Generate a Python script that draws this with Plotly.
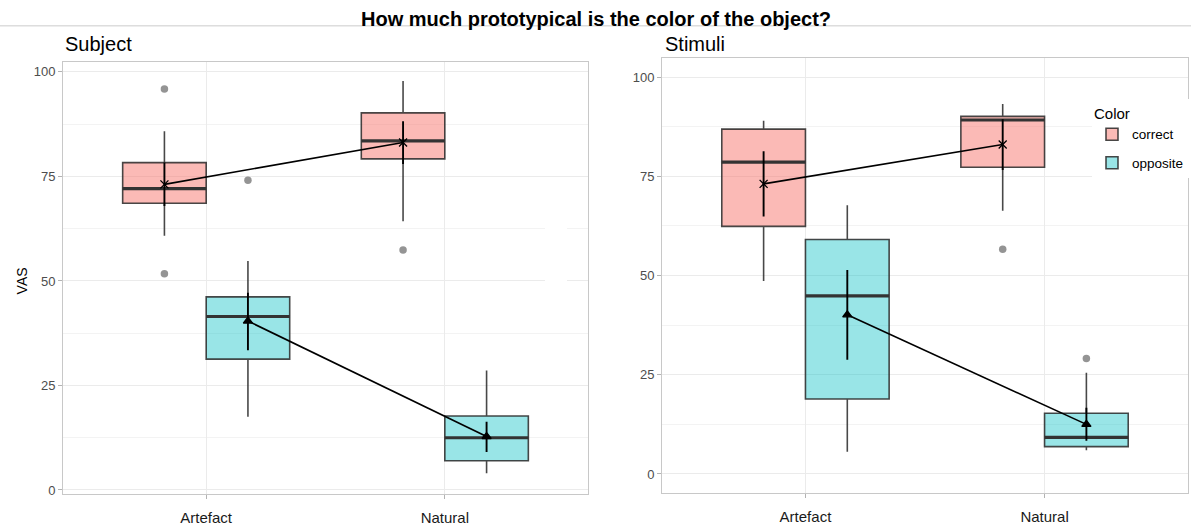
import plotly.graph_objects as go

# ---- data ---------------------------------------------------------------
categories = ["Artefact", "Natural"]
groups = ["correct", "opposite"]

# Subject panel: box statistics per group (Artefact, Natural)
subj_q1 = {"correct": [68.6, 79.2], "opposite": [31.3, 7.0]}
subj_median = {"correct": [72.1, 83.5], "opposite": [41.5, 12.5]}
subj_q3 = {"correct": [78.3, 90.2], "opposite": [46.2, 17.7]}
subj_lower = {"correct": [60.8, 64.3], "opposite": [17.5, 4.0]}
subj_upper = {"correct": [85.8, 97.8], "opposite": [54.8, 28.6]}
subj_mean = {"correct": [73.1, 83.1], "opposite": [40.4, 12.8]}
subj_err_lo = {"correct": [67.9, 78.0], "opposite": [33.4, 9.1]}
subj_err_hi = {"correct": [78.3, 88.2], "opposite": [47.2, 16.3]}
subj_outliers = {"correct": [[95.9, 51.7], [57.4]], "opposite": [[74.1], []]}

# Stimuli panel
stim_q1 = {"correct": [62.4, 77.3], "opposite": [18.9, 6.9]}
stim_median = {"correct": [78.6, 89.2], "opposite": [44.9, 9.2]}
stim_q3 = {"correct": [86.9, 90.1], "opposite": [59.1, 15.3]}
stim_lower = {"correct": [48.6, 66.3], "opposite": [5.6, 6.0]}
stim_upper = {"correct": [89.0, 93.2], "opposite": [67.7, 25.5]}
stim_mean = {"correct": [73.1, 83.0], "opposite": [40.1, 12.5]}
stim_err_lo = {"correct": [64.9, 76.6], "opposite": [28.8, 8.4]}
stim_err_hi = {"correct": [81.3, 89.4], "opposite": [51.4, 16.7]}
stim_outliers = {"correct": [[], [56.6]], "opposite": [[], [29.1]]}

y_ticks = [0, 25, 50, 75, 100]

# ---- styling ------------------------------------------------------------
FONT = "Liberation Sans"
fills = {"correct": "rgba(248,118,109,0.5)", "opposite": "rgba(0,191,196,0.4)"}
mean_symbols = {"correct": "x-thin-open", "opposite": "triangle-up"}
offsets = {"correct": -0.175, "opposite": 0.175}
BOX_W = 0.35
W, H = 1191, 528

fig = go.Figure()

panels = [
    dict(xa="x", ya="y", q1=subj_q1, med=subj_median, q3=subj_q3, lo=subj_lower,
         hi=subj_upper, mean=subj_mean, elo=subj_err_lo, ehi=subj_err_hi,
         out=subj_outliers, legend=False),
    dict(xa="x2", ya="y2", q1=stim_q1, med=stim_median, q3=stim_q3, lo=stim_lower,
         hi=stim_upper, mean=stim_mean, elo=stim_err_lo, ehi=stim_err_hi,
         out=stim_outliers, legend=True),
]

for p in panels:
    for g in groups:
        xs = [i + 1 + offsets[g] for i in range(len(categories))]
        fig.add_trace(go.Box(
            x=xs, q1=p["q1"][g], median=p["med"][g], q3=p["q3"][g],
            lowerfence=p["lo"][g], upperfence=p["hi"][g],
            width=BOX_W, whiskerwidth=0, boxpoints=False,
            fillcolor=fills[g], line=dict(color="rgba(40,40,40,0.85)", width=1.6),
            name=g, legendgroup=g, showlegend=p["legend"],
            xaxis=p["xa"], yaxis=p["ya"], hoverinfo="skip",
        ))
        # thick median bars
        mx, my = [], []
        for x, m in zip(xs, p["med"][g]):
            mx += [x - BOX_W / 2, x + BOX_W / 2, None]
            my += [m, m, None]
        fig.add_trace(go.Scatter(
            x=mx, y=my, mode="lines", line=dict(color="#333333", width=3.2),
            showlegend=False, xaxis=p["xa"], yaxis=p["ya"], hoverinfo="skip",
        ))
        # outliers
        ox, oy = [], []
        for x, vals in zip(xs, p["out"][g]):
            for v in vals:
                ox.append(x)
                oy.append(v)
        if ox:
            fig.add_trace(go.Scatter(
                x=ox, y=oy, mode="markers",
                marker=dict(color="rgba(0,0,0,0.42)", size=7.5),
                showlegend=False, xaxis=p["xa"], yaxis=p["ya"], hoverinfo="skip",
            ))
    # mean lines with error bars
    for g in groups:
        xs = [i + 1 + offsets[g] for i in range(len(categories))]
        means = p["mean"][g]
        fig.add_trace(go.Scatter(
            x=xs, y=means, mode="lines+markers",
            line=dict(color="black", width=1.6),
            marker=dict(symbol=mean_symbols[g], size=8, color="black",
                        line=dict(color="black", width=1.3)),
            error_y=dict(type="data", symmetric=False,
                         array=[h - m for h, m in zip(p["ehi"][g], means)],
                         arrayminus=[m - l for l, m in zip(p["elo"][g], means)],
                         width=0, thickness=1.9, color="black"),
            showlegend=False, xaxis=p["xa"], yaxis=p["ya"], hoverinfo="skip",
        ))

grid = "#ebebeb"
border = "#c8c8c8"


def xaxis(domain, anchor):
    return dict(
        domain=domain, anchor=anchor, range=[0.4, 2.6],
        tickvals=[1, 2], ticktext=categories,
        showgrid=True, gridcolor=grid, gridwidth=1,
        showline=True, mirror=True, linecolor=border, linewidth=1,
        ticks="outside", ticklen=4, tickcolor="#b3b3b3",
        ticklabelstandoff=6,
        tickfont=dict(family=FONT, size=15, color="#1a1a1a"),
        zeroline=False,
    )


def yaxis(domain, anchor, rng):
    return dict(
        domain=domain, anchor=anchor, range=rng,
        tickvals=y_ticks,
        showgrid=True, gridcolor=grid, gridwidth=1,
        minor=dict(tick0=0, dtick=12.5, showgrid=True, gridcolor="#f3f3f3",
                   gridwidth=1, ticks=""),
        showline=True, mirror=True, linecolor=border, linewidth=1,
        ticks="outside", ticklen=4, tickcolor="#b3b3b3",
        tickfont=dict(family=FONT, size=13, color="#4d4d4d"),
        zeroline=False,
    )


fig.update_layout(
    width=W, height=H,
    margin=dict(l=0, r=0, t=0, b=0),
    paper_bgcolor="white", plot_bgcolor="white",
    xaxis=xaxis([63 / W, 588 / W], "y"),
    yaxis=yaxis([1 - 497 / H, 1 - 62 / H], "x", [-1.0, 102.45]),
    xaxis2=xaxis([662 / W, 1188 / W], "y2"),
    yaxis2=yaxis([1 - 496 / H, 1 - 58 / H], "x2", [-4.84, 104.9]),
    showlegend=True,
    legend=dict(
        x=1092 / W, y=1 - 100 / H, xanchor="left", yanchor="top",
        bgcolor="white", borderwidth=0,
        title=dict(text="Color", font=dict(family=FONT, size=15, color="black")),
        font=dict(family=FONT, size=13.5, color="black"),
        tracegroupgap=8,
    ),
    shapes=[
        dict(type="line", xref="paper", yref="paper", x0=0, x1=1,
             y0=1 - 26 / H, y1=1 - 26 / H, line=dict(color="#cccccc", width=1),
             layer="below"),
        dict(type="rect", xref="paper", yref="paper", x0=545 / W, x1=567 / W,
             y0=1 - 287 / H, y1=1 - 226 / H, fillcolor="white",
             line=dict(width=0), layer="above"),
    ],
    annotations=[
        dict(text="<b>How much prototypical is the color of the object?</b>",
             x=0.5, y=1 - 19 / H, xref="paper", yref="paper",
             xanchor="center", yanchor="middle", showarrow=False,
             font=dict(family=FONT, size=20, color="black")),
        dict(text="Subject", x=63 / W, y=1 - 44 / H, xref="paper", yref="paper",
             xanchor="left", yanchor="middle", showarrow=False,
             font=dict(family=FONT, size=20, color="black")),
        dict(text="Stimuli", x=663 / W, y=1 - 44 / H, xref="paper", yref="paper",
             xanchor="left", yanchor="middle", showarrow=False,
             font=dict(family=FONT, size=20, color="black")),
        dict(text="VAS", x=22 / W, y=1 - 283 / H, xref="paper", yref="paper",
             xanchor="center", yanchor="middle", textangle=-90, showarrow=False,
             font=dict(family=FONT, size=14, color="black")),
    ],
)

fig.write_html("out.html")
